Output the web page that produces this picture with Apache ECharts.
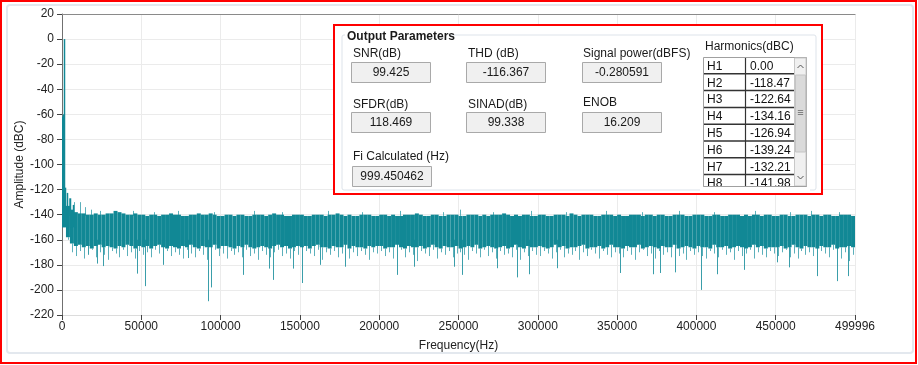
<!DOCTYPE html>
<html><head><meta charset="utf-8">
<script src="https://cdn.jsdelivr.net/npm/echarts@6/dist/echarts.min.js"></script>
<style>html,body{margin:0;padding:0;background:#fff}#c{width:918px;height:365px}</style>
</head><body><div id="c"></div>
<script>
// ---- data ----
const binHz = 2500;
const xMax = 499996;
const xTicks = [0,50000,100000,150000,200000,250000,300000,350000,400000,450000,499996];
// noise floor per 2500 Hz bin: top of dense band, bottom of dense band, lowest dip in bin (dBC)
const topDb = [
-120,-133,-136,-138,-139,-139,-140,-140,-139,-140,-140,-139,-139,-137,-138,-139,-140,-140,-139,-140,
-140,-141,-140,-140,-141,-140,-140,-139,-140,-140,-141,-141,-140,-140,-139,-140,-140,-139,-140,-141,
-141,-140,-140,-141,-140,-140,-141,-141,-140,-140,-140,-141,-140,-139,-140,-140,-141,-141,-140,-140,
-140,-141,-141,-140,-140,-140,-141,-140,-140,-139,-140,-141,-140,-141,-141,-140,-140,-140,-141,-141,
-140,-140,-141,-140,-141,-141,-140,-140,-140,-139,-140,-141,-141,-140,-140,-141,-141,-140,-140,-140,
-141,-141,-140,-140,-140,-141,-140,-141,-140,-140,-140,-139,-140,-141,-140,-141,-140,-140,-141,-141,
-140,-140,-141,-141,-140,-140,-140,-141,-139,-140,-141,-140,-140,-140,-141,-141,-140,-140,-140,-141,
-140,-141,-141,-140,-140,-140,-141,-140,-140,-141,-140,-140,-141,-141,-140,-140,-140,-141,-141,-140,
-140,-140,-141,-141,-140,-140,-141,-141,-140,-140,-140,-141,-140,-141,-140,-140,-141,-140,-140,-141,
-141,-140,-140,-141,-141,-140,-140,-140,-141,-140,-140,-141,-140,-140,-141,-141,-140,-140,-140,-141];
const botDb = [
-150,-158,-163,-165,-164,-166,-165,-167,-165,-164,-166,-165,-166,-167,-165,-166,-164,-165,-167,-165,
-166,-165,-167,-165,-164,-166,-167,-165,-166,-167,-165,-166,-164,-166,-167,-165,-166,-166,-164,-167,
-165,-165,-166,-167,-165,-166,-164,-166,-167,-166,-165,-166,-167,-165,-164,-166,-165,-167,-166,-165,
-166,-165,-167,-165,-164,-166,-166,-167,-165,-166,-166,-164,-167,-165,-166,-166,-167,-165,-166,-165,
-165,-167,-166,-166,-164,-166,-167,-165,-166,-166,-165,-167,-166,-164,-166,-167,-165,-166,-166,-165,
-167,-166,-165,-166,-164,-167,-166,-165,-166,-167,-166,-165,-167,-166,-164,-166,-167,-165,-166,-166,
-165,-166,-167,-166,-164,-166,-165,-167,-166,-166,-165,-164,-167,-166,-166,-165,-167,-166,-164,-166,
-166,-167,-165,-166,-166,-164,-167,-166,-165,-166,-167,-165,-166,-166,-164,-167,-166,-165,-166,-167,
-165,-166,-166,-167,-164,-166,-166,-165,-167,-166,-165,-166,-167,-166,-164,-166,-165,-167,-166,-166,
-166,-165,-167,-166,-164,-166,-167,-165,-166,-166,-167,-165,-166,-166,-164,-167,-166,-166,-165,-166];
const dipDb = [
-150,-160,-170,-173,-169,-175,-171,-168,-174,-170,-172,-176,-169,-171,-174,-168,-173,-170,-175,-169,
-172,-170,-174,-168,-171,-177,-169,-173,-170,-172,-175,-168,-171,-174,-169,-172,-176,-170,-168,-173,
-171,-175,-169,-172,-170,-174,-168,-173,-171,-176,-169,-172,-174,-170,-168,-173,-171,-175,-169,-172,
-174,-169,-171,-173,-168,-176,-170,-172,-169,-174,-171,-168,-175,-170,-173,-169,-172,-176,-170,-171,
-169,-173,-170,-175,-171,-168,-174,-170,-172,-177,-169,-171,-173,-168,-175,-170,-172,-169,-174,-171,
-170,-172,-176,-169,-171,-174,-168,-173,-170,-175,-169,-172,-171,-174,-168,-176,-170,-173,-169,-172,
-173,-169,-171,-175,-170,-168,-174,-171,-172,-169,-176,-170,-173,-168,-171,-175,-169,-172,-174,-170,
-171,-174,-169,-172,-176,-170,-168,-173,-171,-175,-169,-172,-170,-174,-168,-173,-171,-176,-169,-172,
-170,-173,-175,-169,-171,-174,-168,-172,-170,-176,-169,-173,-171,-168,-175,-170,-172,-174,-169,-171,
-173,-170,-168,-174,-171,-175,-169,-172,-170,-173,-176,-169,-171,-174,-168,-172,-175,-170,-177,-172];
// deep isolated dips: frequency (Hz) and amplitude (dBC)
const deepHz = [16400,21870,25660,47290,52330,63500,79400,91870,93950,114100,130500,133000,145400,151100,162700,178400,211200,221900,247200,252200,274100,287000,294300,311900,351800,372400,377000,386500,402700,412800,430000,450600,458300,476100,488700,495400];
const deepDb = [-172,-179,-181,-187,-197,-180,-174.6,-209,-198,-188,-183,-192,-183,-194.5,-180,-181.5,-188,-181.5,-181.5,-188,-182.7,-190,-187.5,-182.7,-186.5,-187.5,-186.5,-186,-200,-187.5,-184,-178,-182,-189,-193,-189];
// small upward spikes above the band
const upHz = [4500,7500,11350,14500,18000,24000,33000,45000,58000,73000,96000,121000,139000,168000,189000,213000,240000,251000,272000,296000,318000,343000,366000,389000,411000,437000,459000,472000,490000];
const upDb = [-127,-130,-130,-134,-136,-137,-138,-137,-138,-137,-138,-137,-138,-137,-138,-137,-138,-136,-138,-137,-138,-137,-138,-137,-138,-137,-138,-137,-138];
// fundamental, harmonics and DC leakage
const peakHz = [0,500,1000,2000,3000,4000,5000,6000,7000,8000];
const peakDb = [-62,-60,0,-118.47,-122.64,-134.16,-126.94,-139.24,-132.21,-141.98];
// output parameters panel
const params = [
  ['SNR(dB)','99.425'],['THD (dB)','-116.367'],['Signal power(dBFS)','-0.280591'],
  ['SFDR(dB)','118.469'],['SINAD(dB)','99.338'],['ENOB','16.209'],
  ['Fi Calculated (Hz)','999.450462']];
const harmNames = ['H1','H2','H3','H4','H5','H6','H7','H8'];
const harmVals = ['0.00','-118.47','-122.64','-134.16','-126.94','-139.24','-132.21','-141.98'];

// ---- chart ----
const TEAL = '#118895', LIGHT = '#5cb0bb', MID = '#3a9eaa';
const FONT = 'Liberation Sans, Arial, sans-serif';
const chart = echarts.init(document.getElementById('c'), null, {renderer:'canvas'});

const bandData = topDb.map((t,i)=>[i*binHz, botDb[i], t]);
const dipData = dipDb.map((d,i)=>[i*binHz + binHz/2, d, botDb[i]]);
const deepData = deepHz.map((f,i)=>[f, deepDb[i], -160]);
const upData = upHz.map((f,i)=>[f, -141, upDb[i]]);
const peakData = peakHz.map((f,i)=>[f, -150, peakDb[i]]);

function bandItem(p, api){
  const f = api.value(0);
  const a = api.coord([f, api.value(2)]);
  const b = api.coord([f + binHz, api.value(1)]);
  return {type:'rect', shape:{x:a[0], y:a[1], width:b[0]-a[0], height:b[1]-a[1]}, style:{fill:TEAL}};
}
function lineItem(color, w){
  return function(p, api){
    const f = api.value(0);
    const a = api.coord([f, api.value(1)]);
    const b = api.coord([f, api.value(2)]);
    const x = Math.round(a[0]) + 0.5;
    return {type:'line', shape:{x1:x, y1:a[1], x2:x, y2:b[1]}, style:{stroke:color, lineWidth:w}};
  };
}

// graphic overlay (panel)
const g = [];
g.push({type:'rect', shape:{x:7,y:5,width:906,height:348,r:3}, style:{fill:'none',stroke:'#e3e8ee',lineWidth:2}, z:90});
g.push({type:'rect', shape:{x:1,y:1,width:915,height:362}, style:{fill:'none',stroke:'#ff0000',lineWidth:2}, z:100});
g.push({type:'rect', shape:{x:334,y:25,width:488,height:169}, style:{fill:'#ffffff',stroke:'#ff0000',lineWidth:2}, z:100});
g.push({type:'rect', shape:{x:342,y:35,width:474,height:155,r:2}, style:{fill:'none',stroke:'#dde3ea',lineWidth:1}, z:101});
g.push({type:'rect', shape:{x:345,y:29,width:106,height:14}, style:{fill:'#ffffff'}, z:102});
g.push({type:'text', x:347, y:37, style:{text:'Output Parameters', font:'bold 12px '+FONT, fill:'#1a1a1a', verticalAlign:'middle'}, z:103});
const pos = [[353,54,351,62],[468,54,466,62],[583,54,582,62],[353,105,351,112],[468,105,466,112],[583,103,582,112],[353,157,352,166]];
params.forEach((p,i)=>{
  const q = pos[i];
  g.push({type:'text', x:q[0], y:q[1], style:{text:p[0], font:'12px '+FONT, fill:'#1a1a1a', verticalAlign:'middle'}, z:103});
  g.push({type:'rect', shape:{x:q[2]+0.5,y:q[3]+0.5,width:79,height:20}, style:{fill:'#f0f0f0',stroke:'#a9a9a9',lineWidth:1}, z:102});
  g.push({type:'text', x:q[2]+40, y:q[3]+11, style:{text:p[1], font:'12px '+FONT, fill:'#1a1a1a', align:'center', verticalAlign:'middle'}, z:103});
});
// harmonics table
g.push({type:'text', x:705, y:47, style:{text:'Harmonics(dBC)', font:'12px '+FONT, fill:'#1a1a1a', verticalAlign:'middle'}, z:103});
const T0 = 57, RH = 16.8;
g.push({type:'rect', shape:{x:703.5,y:T0+0.5,width:103,height:129}, style:{fill:'#ffffff',stroke:'#a0a0a0',lineWidth:1}, z:102});
harmNames.forEach((h,i)=>{
  const y = T0 + i*RH;
  g.push({type:'text', x:707, y:y+RH/2+1, style:{text:h, font:'12px '+FONT, fill:'#111', verticalAlign:'middle'}, z:103});
  g.push({type:'text', x:750, y:y+RH/2+1, style:{text:harmVals[i], font:'12px '+FONT, fill:'#111', verticalAlign:'middle'}, z:103});
  if (i>0) g.push({type:'line', shape:{x1:704,y1:y,x2:794,y2:y}, style:{stroke:'#333',lineWidth:1.5}, z:104});
});
g.push({type:'line', shape:{x1:745.5,y1:T0+1,x2:745.5,y2:186}, style:{stroke:'#333',lineWidth:1.2}, z:104});
g.push({type:'rect', shape:{x:700,y:187,width:110,height:5}, style:{fill:'#ffffff'}, z:105});
g.push({type:'line', shape:{x1:703.5,y1:186.5,x2:806.5,y2:186.5}, style:{stroke:'#a0a0a0',lineWidth:1}, z:106});
// scrollbar
g.push({type:'rect', shape:{x:794.5,y:T0+1,width:11.5,height:128}, style:{fill:'#f0f0f0',stroke:'#c8c8c8',lineWidth:1}, z:104});
g.push({type:'rect', shape:{x:795.5,y:75,width:10,height:77}, style:{fill:'#dadada',stroke:'#c4c4c4',lineWidth:1}, z:105});
g.push({type:'text', x:800.5, y:113, style:{text:'≡', font:'11px '+FONT, fill:'#666', align:'center', verticalAlign:'middle'}, z:106});
g.push({type:'polyline', shape:{points:[[797.5,68],[800.5,65],[803.5,68]]}, style:{stroke:'#555',lineWidth:1,fill:'none'}, z:106});
g.push({type:'polyline', shape:{points:[[797.5,176],[800.5,179],[803.5,176]]}, style:{stroke:'#555',lineWidth:1,fill:'none'}, z:106});

const axisText = {color:'#222', fontSize:12, fontFamily:FONT};
chart.setOption({
  animation:false,
  grid:{left:62,right:63,top:14,bottom:50},
  xAxis:[{
    type:'value', min:xTicks[0], max:xMax, interval:xTicks[1]-xTicks[0],
    name:'Frequency(Hz)', nameLocation:'middle', nameGap:25, nameMoveOverlap:false, nameTextStyle:axisText,
    axisLine:{show:true, onZero:false, lineStyle:{color:'#dcdcdc'}},
    axisTick:{show:true, length:5, lineStyle:{color:'#444'}},
    axisLabel:Object.assign({margin:6, showMaxLabel:true, formatter:v=>String(v)}, axisText),
    splitLine:{show:true, lineStyle:{color:'#ebebeb', width:1}}
  },{
    type:'value', position:'top', min:xTicks[0], max:xMax,
    axisLine:{show:true, onZero:false, lineStyle:{color:'#8a8a8a'}}, axisTick:{show:false}, axisLabel:{show:false}, splitLine:{show:false}
  }],
  yAxis:{
    type:'value', min:-220, max:20, interval:20,
    name:'Amplitude (dBC)', nameLocation:'middle', nameGap:36, nameMoveOverlap:false, nameTextStyle:axisText,
    axisLine:{show:true, onZero:false, lineStyle:{color:'#707070'}},
    axisTick:{show:true, length:5, lineStyle:{color:'#444'}},
    axisLabel:Object.assign({margin:8}, axisText),
    splitLine:{show:true, lineStyle:{color:'#ebebeb', width:1}}
  },
  series:[
    {type:'custom', clip:true, renderItem:lineItem(LIGHT,1), data:dipData, encode:{x:0,y:[1,2]}, z:2},
    {type:'custom', clip:true, renderItem:lineItem(MID,1), data:deepData, encode:{x:0,y:[1,2]}, z:2},
    {type:'custom', clip:true, renderItem:lineItem(LIGHT,1), data:upData, encode:{x:0,y:[1,2]}, z:2},
    {type:'custom', clip:true, renderItem:bandItem, data:bandData, encode:{x:0,y:[1,2]}, z:3},
    {type:'custom', clip:true, renderItem:lineItem(TEAL,1.5), data:peakData, encode:{x:0,y:[1,2]}, z:4}
  ],
  graphic:g
});
</script></body></html>
